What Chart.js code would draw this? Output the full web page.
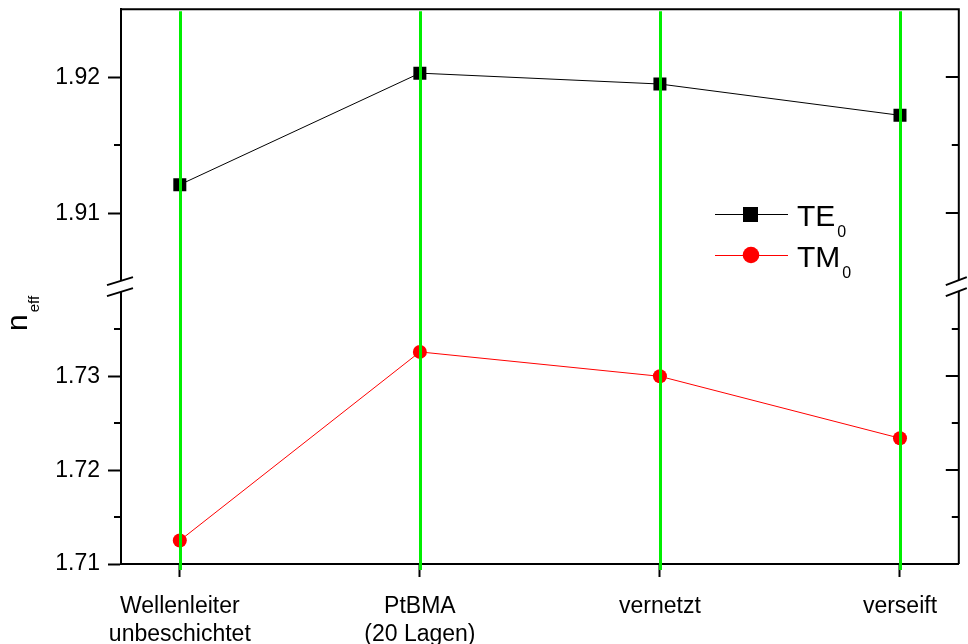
<!DOCTYPE html>
<html>
<head>
<meta charset="utf-8">
<script src="https://cdn.jsdelivr.net/npm/chart.js@4.4.0/dist/chart.umd.min.js"></script>
<style>
  html, body { margin: 0; padding: 0; background: #fff; }
  #wrap { width: 968px; height: 644px; }
</style>
</head>
<body>
<div id="wrap"><canvas id="c" width="968" height="644"></canvas></div>
<script>
// Sample stages (multi-line axis labels)
const categories = [['Wellenleiter', 'unbeschichtet'], ['PtBMA', '(20 Lagen)'], ['vernetzt'], ['verseift']];
// Effective refractive index per mode
const te0 = [1.9121, 1.9203, 1.9195, 1.9172];
const tm0 = [1.7125, 1.7326, 1.7300, 1.7234];
// Broken y axis: upper and lower segment ticks and ranges
const upperTicks = [1.91, 1.92];
const upperMinor = [1.915];
const lowerTicks = [1.71, 1.72, 1.73];
const lowerMinor = [1.715, 1.725, 1.735];
const upperRange = [1.9045, 1.925];
const lowerRange = [1.71, 1.7394];
const xRange = [-0.245, 3.245];
// Legend entries: main text + subscript
const seriesNames = [['TE', '0'], ['TM', '0']];
const seriesColors = ['#000000', '#ff0000'];
const dropColor = '#00ee00';

const FONT = "'Liberation Sans', Arial, sans-serif";
Chart.defaults.font.family = FONT;
Chart.defaults.color = '#000';

const axisGrid = {
  display: true, drawOnChartArea: false, drawTicks: true,
  tickLength: 13, tickWidth: 2, tickColor: '#000'
};
const axisBorder = { display: true, color: '#000', width: 2 };

function noEdgePadding(s) {
  s.paddingTop = 0; s.paddingBottom = 0;
  s.paddingLeft = 0; s.paddingRight = 0;
}

function drawBreak(ctx, x, yb, left, right) {
  ctx.save();
  ctx.fillStyle = '#fff';
  ctx.beginPath();
  ctx.moveTo(x - left, yb - 3);
  ctx.lineTo(x + right, yb - 11);
  ctx.lineTo(x + right, yb);
  ctx.lineTo(x - left, yb + 8);
  ctx.closePath();
  ctx.fill();
  ctx.strokeStyle = '#000';
  ctx.lineWidth = 2;
  ctx.beginPath();
  ctx.moveTo(x - left, yb - 3); ctx.lineTo(x + right, yb - 11);
  ctx.moveTo(x - left, yb + 8); ctx.lineTo(x + right, yb);
  ctx.stroke();
  ctx.restore();
}

const framePlugin = {
  id: 'frame',
  afterDatasetsDraw(chart) {
    const { ctx, chartArea: a, scales } = chart;
    const xs = scales.x, yt = scales.yTop, yb = scales.yBot;
    ctx.save();

    // vertical drop lines at each stage
    ctx.strokeStyle = dropColor;
    ctx.lineWidth = 3;
    categories.forEach((_, i) => {
      const px = Math.round(xs.getPixelForValue(i)) + 0.5;
      ctx.beginPath();
      ctx.moveTo(px, a.top + 2);
      ctx.lineTo(px, a.bottom + 6);
      ctx.stroke();
    });

    // top and right frame
    ctx.strokeStyle = '#000';
    ctx.lineWidth = 2;
    ctx.beginPath();
    ctx.moveTo(a.left - 1, a.top);
    ctx.lineTo(a.right + 1, a.top);
    ctx.moveTo(a.right, a.top);
    ctx.lineTo(a.right, a.bottom);
    ctx.stroke();

    // minor ticks left (outward) and all ticks right (inward)
    const tick = (scale, v, len, side) => {
      const py = Math.round(scale.getPixelForValue(v));
      ctx.beginPath();
      if (side === 'left') { ctx.moveTo(a.left - len, py); ctx.lineTo(a.left, py); }
      else { ctx.moveTo(a.right - len, py); ctx.lineTo(a.right, py); }
      ctx.stroke();
    };
    upperMinor.forEach(v => tick(yt, v, 7, 'left'));
    lowerMinor.forEach(v => tick(yb, v, 7, 'left'));
    upperTicks.forEach(v => tick(yt, v, 13, 'right'));
    upperMinor.forEach(v => tick(yt, v, 7, 'right'));
    lowerTicks.forEach(v => tick(yb, v, 13, 'right'));
    lowerMinor.forEach(v => tick(yb, v, 7, 'right'));

    // axis breaks
    const yBreak = yb.top;
    drawBreak(ctx, a.left, yBreak, 14, 12);
    drawBreak(ctx, a.right, yBreak, 13, 8);

    // y-axis title n_eff
    ctx.save();
    ctx.translate(27, 331);
    ctx.rotate(-Math.PI / 2);
    ctx.fillStyle = '#000';
    ctx.textBaseline = 'alphabetic';
    ctx.font = '30px ' + FONT;
    ctx.fillText('n', 0, 0);
    const nw = ctx.measureText('n').width;
    ctx.font = '15px ' + FONT;
    ctx.fillText('eff', nw + 2, 12);
    ctx.restore();

    // legend
    const lx = a.left + 594, ly0 = 214, dy = 41;
    seriesNames.forEach((nm, i) => {
      const y = ly0 + i * dy;
      ctx.strokeStyle = seriesColors[i];
      ctx.fillStyle = seriesColors[i];
      ctx.lineWidth = 1;
      ctx.beginPath();
      ctx.moveTo(lx, y + 0.5);
      ctx.lineTo(lx + 73, y + 0.5);
      ctx.stroke();
      ctx.beginPath();
      if (i === 0) ctx.rect(lx + 28, y - 7, 15, 15);
      else ctx.arc(lx + 36, y, 8.3, 0, Math.PI * 2);
      ctx.fill();
      ctx.fillStyle = '#000';
      ctx.font = '30px ' + FONT;
      ctx.textBaseline = 'alphabetic';
      ctx.fillText(nm[0], lx + 82, y + 12);
      const w = ctx.measureText(nm[0]).width;
      ctx.font = '16px ' + FONT;
      ctx.fillText(nm[1], lx + 82 + w + 2, y + 23);
    });

    ctx.restore();
  }
};

new Chart(document.getElementById('c'), {
  type: 'line',
  data: {
    datasets: [
      {
        label: 'TE0',
        data: te0.map((v, i) => ({ x: i, y: v })),
        xAxisID: 'x', yAxisID: 'yTop',
        borderColor: seriesColors[0], borderWidth: 1,
        pointStyle: 'rect', pointRadius: 9.2,
        pointBackgroundColor: seriesColors[0], pointBorderWidth: 0,
        tension: 0
      },
      {
        label: 'TM0',
        data: tm0.map((v, i) => ({ x: i, y: v })),
        xAxisID: 'x', yAxisID: 'yBot',
        borderColor: seriesColors[1], borderWidth: 1,
        pointStyle: 'circle', pointRadius: 7,
        pointBackgroundColor: seriesColors[1], pointBorderWidth: 0,
        tension: 0
      }
    ]
  },
  options: {
    responsive: false,
    animation: false,
    devicePixelRatio: 1,
    layout: { padding: { top: 9, right: 7, left: 0, bottom: 0 } },
    plugins: { legend: { display: false }, tooltip: { enabled: false } },
    scales: {
      x: {
        type: 'linear', position: 'bottom',
        min: xRange[0], max: xRange[1],
        afterBuildTicks: s => { s.ticks = categories.map((_, i) => ({ value: i })); },
        ticks: {
          callback: v => categories[v],
          font: { size: 23, lineHeight: 1.25 },
          color: '#000', padding: 15, maxRotation: 0, autoSkip: false
        },
        grid: axisGrid, border: axisBorder,
        afterFit: s => { s.height = 80; noEdgePadding(s); }
      },
      yTop: {
        type: 'linear', position: 'left', stack: 'n', stackWeight: 279, weight: 1,
        min: upperRange[0], max: upperRange[1],
        afterBuildTicks: s => { s.ticks = upperTicks.map(v => ({ value: v })); },
        ticks: { callback: v => v.toFixed(2), font: { size: 23 }, color: '#000', padding: 8 },
        grid: axisGrid, border: axisBorder,
        afterFit: s => { s.width = 121; noEdgePadding(s); }
      },
      yBot: {
        type: 'linear', position: 'left', stack: 'n', stackWeight: 276, weight: 0,
        min: lowerRange[0], max: lowerRange[1],
        afterBuildTicks: s => { s.ticks = lowerTicks.map(v => ({ value: v })); },
        ticks: { callback: v => v.toFixed(2), font: { size: 23 }, color: '#000', padding: 8 },
        grid: axisGrid, border: axisBorder,
        afterFit: s => { s.width = 121; noEdgePadding(s); }
      }
    }
  },
  plugins: [framePlugin]
});
</script>
</body>
</html>
